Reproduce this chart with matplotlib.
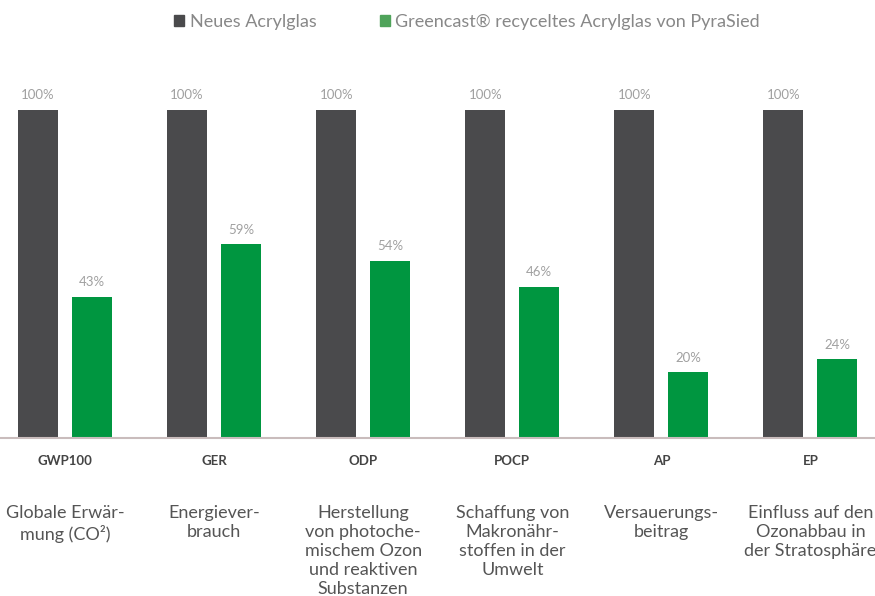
import numpy as np
import matplotlib
matplotlib.use("Agg")
import matplotlib.pyplot as plt
from matplotlib.patches import Patch

# data
codes = ["GWP100", "GER", "ODP", "POCP", "AP", "EP"]
descriptions = [
    "Globale Erwär-\nmung (CO²)",
    "Energiever-\nbrauch",
    "Herstellung\nvon photoche-\nmischem Ozon\nund reaktiven\nSubstanzen",
    "Schaffung von\nMakronähr-\nstoffen in der\nUmwelt",
    "Versauerungs-\nbeitrag",
    "Einfluss auf den\nOzonabbau in\nder Stratosphäre",
]
neu = [100, 100, 100, 100, 100, 100]
greencast = [43, 59, 54, 46, 20, 24]
series_names = ["Neues Acrylglas", "Greencast® recyceltes Acrylglas von PyraSied"]

DARK = "#4a4a4c"
GREEN = "#009640"

plt.rcParams['font.family'] = ['Lato', 'DejaVu Sans']

W, H = 875, 596
fig = plt.figure(figsize=(W / 100, H / 100), dpi=100)
ax = fig.add_axes([0, (H - 438) / H, 1, (438 - 110) / H])

x = np.arange(len(codes))
step = 149.1  # px between groups
bw = 40 / step
off = 27 / step
ax.bar(x - off, neu, width=bw, color=DARK)
ax.bar(x + off, greencast, width=bw, color=GREEN)
ax.set_xlim(-65 / step, (W - 65) / step)
ax.set_ylim(0, 100)

for xi, v in zip(x - off, neu):
    ax.text(xi, v + 4.5, f"{v}%", ha="center", va="center", fontsize=9.5,
            color="#a0a0a0", clip_on=False)
for xi, v in zip(x + off, greencast):
    ax.text(xi, v + 4.5, f"{v}%", ha="center", va="center", fontsize=9.5,
            color="#a0a0a0", clip_on=False)

for s in ["top", "right", "left"]:
    ax.spines[s].set_visible(False)
ax.spines["bottom"].set_color("#c9bcbc")
ax.spines["bottom"].set_linewidth(1.5)
ax.set_yticks([])
ax.set_xticks([])

# category codes and descriptions under the axis
for xi, c, d in zip(x, codes, descriptions):
    ax.text(xi, -7, c, ha="center", va="center", fontsize=9.5,
            fontweight="bold", color="#444444", clip_on=False)
    ax.text(xi, -20.5, d, ha="center", va="top", fontsize=13,
            color="#555555", linespacing=1.22, clip_on=False)

handles = [Patch(color=DARK), Patch(color="#4fa35a")]
fig.legend(handles, series_names, loc="center",
           bbox_to_anchor=(467 / W, 1 - 22 / H), ncol=2, frameon=False,
           fontsize=13, labelcolor="#888888", handlelength=0.55,
           handleheight=0.55, handletextpad=0.3, columnspacing=3.5)

fig.savefig("out.png", dpi=100)
